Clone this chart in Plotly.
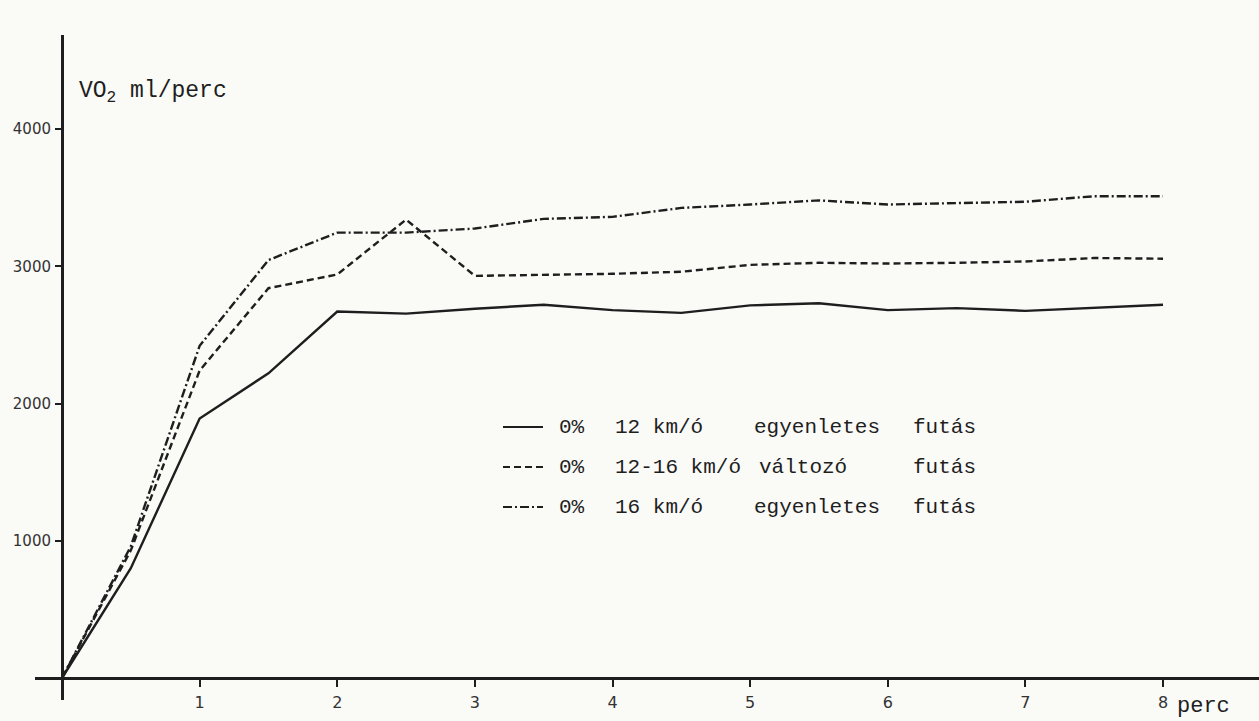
import plotly.graph_objects as go

# Oxygen uptake (ml/perc) over time (perc) for three running protocols
minutes = [0, 0.5, 1, 1.5, 2, 2.5, 3, 3.5, 4, 4.5, 5, 5.5, 6, 6.5, 7, 7.5, 8]
vo2_12 = [0, 800, 1890, 2220, 2670, 2655, 2690, 2720, 2680, 2660, 2715, 2730,
          2680, 2695, 2675, 2695, 2720]
vo2_12_16 = [0, 930, 2240, 2840, 2940, 3340, 2930, 2935, 2945, 2960, 3010, 3025,
             3020, 3025, 3035, 3060, 3055]
vo2_16 = [0, 960, 2420, 3045, 3245, 3245, 3275, 3345, 3360, 3425, 3450, 3480,
          3450, 3460, 3470, 3510, 3510]

x_ticks = [1, 2, 3, 4, 5, 6, 7, 8]
y_ticks = [1000, 2000, 3000, 4000]

legend_rows = [
    ("solid", "0%", "12 km/ó", "egyenletes", "futás"),
    ("7px,4px", "0%", "12-16 km/ó", "változó", "futás"),
    ("9px,3px,2px,3px", "0%", "16 km/ó", "egyenletes", "futás"),
]

W, H = 1259, 721
ML, MR, MT, MB = 35, 0, 35, 21
PW, PH = W - ML - MR, H - MT - MB

INK = "#1e1e1e"
MONO = "Liberation Mono"


def px(xp):
    return (xp - ML) / PW


def py(yp):
    return (H - MB - yp) / PH


fig = go.Figure()
series = [(vo2_12, "solid"), (vo2_12_16, "7px,4px"), (vo2_16, "9px,3px,2px,3px")]
for vals, dash in series:
    fig.add_trace(go.Scatter(
        x=minutes, y=vals, mode="lines",
        line=dict(color=INK, width=2.4, dash=dash),
        showlegend=False, hoverinfo="skip",
    ))

shapes = []
annotations = []
row_y = [427, 467, 507]
for (dash, a, b, c, d), yy in zip(legend_rows, row_y):
    shapes.append(dict(type="line", xref="paper", yref="paper",
                       x0=px(503), x1=px(543), y0=py(yy), y1=py(yy),
                       line=dict(color=INK, width=2.2, dash=dash)))
    cx = 757 if c == "változó" else 752
    for txt, xx in zip((a, b, c, d), (557, 613, cx, 911)):
        annotations.append(dict(text=txt, xref="paper", yref="paper",
                                x=px(xx), y=py(yy), xanchor="left", yanchor="middle",
                                showarrow=False,
                                font=dict(family=MONO, size=21, color=INK)))

annotations.append(dict(text="VO<sub>2</sub> ml/perc", xref="paper", yref="paper",
                        x=px(77), y=py(92), xanchor="left", yanchor="middle",
                        showarrow=False, font=dict(family=MONO, size=23, color=INK)))
annotations.append(dict(text="perc", xref="paper", yref="paper",
                        x=px(1175), y=py(706), xanchor="left", yanchor="middle",
                        showarrow=False, font=dict(family=MONO, size=22, color=INK)))

x0_px, y0_px = 62, 678
ppx = 137.625
ppy = 0.13725

fig.update_layout(
    width=W, height=H,
    margin=dict(l=ML, r=MR, t=MT, b=MB),
    paper_bgcolor="#fafaf7", plot_bgcolor="#fafaf7",
    shapes=shapes, annotations=annotations,
    xaxis=dict(
        range=[(ML - x0_px) / ppx, (W - MR - x0_px) / ppx],
        anchor="free", position=py(y0_px),
        showline=True, linewidth=3, linecolor=INK,
        showgrid=False, zeroline=False,
        tickvals=x_ticks, ticks="outside", ticklen=7, tickwidth=1.6, tickcolor=INK,
        ticklabelstandoff=2,
        tickfont=dict(family="DejaVu Sans", size=16, color="#333"),
    ),
    yaxis=dict(
        range=[-(H - MB - y0_px) / ppy, (y0_px - MT) / ppy],
        anchor="free", position=px(x0_px),
        showline=True, linewidth=3, linecolor=INK,
        showgrid=False, zeroline=False,
        tickvals=y_ticks, ticks="outside", ticklen=6, tickwidth=1.6, tickcolor=INK,
        ticklabelstandoff=1,
        tickfont=dict(family="DejaVu Sans", size=15, color="#333"),
    ),
)

fig.write_html("out.html")
